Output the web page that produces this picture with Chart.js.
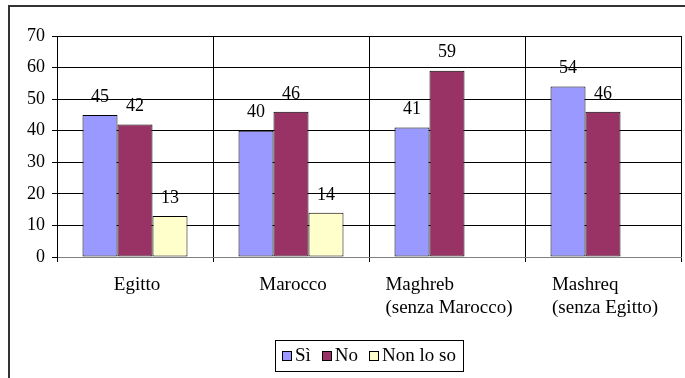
<!DOCTYPE html>
<html>
<head>
<meta charset="utf-8">
<script src="https://cdn.jsdelivr.net/npm/chart.js@4/dist/chart.umd.min.js"></script>
<style>
  html, body { margin: 0; padding: 0; background: #fff; }
  #wrap { width: 685px; height: 378px; }
</style>
</head>
<body>
<div id="wrap"><canvas id="c" width="685" height="378"></canvas></div>
<script>
// Survey answers by region (percent)
const categories = [['Egitto'], ['Marocco'], ['Maghreb', '(senza Marocco)'], ['Mashreq', '(senza Egitto)']];
const seriesNames = ['Sì', 'No', 'Non lo so'];
const si = [45, 40, 41, 54];
const no = [42, 46, 59, 46];
const nonLoSo = [13, 14, null, null];
const yTicks = [0, 10, 20, 30, 40, 50, 60, 70];

const seriesColors = ['#9999FF', '#993366', '#FFFFCC'];
const FONT = "'Liberation Serif', 'DejaVu Serif', serif";

const decor = {
  id: 'decor',
  beforeDraw(chart) {
    const ctx = chart.ctx;
    ctx.save();
    ctx.fillStyle = '#fff';
    ctx.fillRect(0, 0, chart.width, chart.height);
    ctx.restore();
  },
  afterDatasetsDraw(chart) {
    // value labels above each bar
    const ctx = chart.ctx;
    ctx.save();
    ctx.font = '18px ' + FONT;
    ctx.fillStyle = '#000';
    ctx.textAlign = 'center';
    ctx.textBaseline = 'middle';
    chart.data.datasets.forEach((ds, di) => {
      const meta = chart.getDatasetMeta(di);
      meta.data.forEach((bar, i) => {
        const v = ds.data[i];
        if (v === null || v === undefined) return;
        ctx.fillText(String(v), bar.x, bar.y - 18);
      });
    });
    ctx.restore();
  },
  afterDraw(chart) {
    const ctx = chart.ctx;
    const xs = chart.scales.x;
    const area = chart.chartArea;
    ctx.save();
    // category labels: block centred under the group, lines left-aligned
    ctx.font = '19px ' + FONT;
    ctx.fillStyle = '#000';
    ctx.textAlign = 'left';
    ctx.textBaseline = 'middle';
    chart.data.labels.forEach((lines, i) => {
      const cx = xs.getPixelForValue(i);
      const w = Math.max(...lines.map(l => ctx.measureText(l).width));
      lines.forEach((l, j) => {
        ctx.fillText(l, cx - w / 2 + 2, area.bottom + 28 + j * 23);
      });
    });

    // legend
    const box = 9, gapText = 4, gapItem = 11, pad = 7;
    const widths = chart.data.datasets.map(d => ctx.measureText(d.label).width);
    const total = widths.reduce((a, w) => a + box + gapText + w, 0) + gapItem * (widths.length - 1);
    const cxl = (area.left + area.right) / 2;
    let x = cxl - total / 2;
    const cy = 356;
    ctx.strokeStyle = '#000';
    ctx.lineWidth = 1;
    ctx.strokeRect(Math.round(x - pad) + 0.5, 340.5, Math.round(total + pad * 2), 31);
    chart.data.datasets.forEach((d, i) => {
      ctx.fillStyle = d.backgroundColor;
      ctx.fillRect(Math.round(x) + 0.5, cy - 4.5, box, box);
      ctx.strokeStyle = '#000';
      ctx.strokeRect(Math.round(x) + 0.5, cy - 4.5, box, box);
      ctx.fillStyle = '#000';
      ctx.fillText(d.label, x + box + gapText, cy);
      x += box + gapText + widths[i] + gapItem;
    });

    // outer frame
    ctx.strokeStyle = '#333';
    ctx.lineWidth = 2;
    ctx.strokeRect(9, 6, chart.width + 20, chart.height + 20);
    ctx.restore();
  }
};

new Chart(document.getElementById('c'), {
  type: 'bar',
  data: {
    labels: categories,
    datasets: [
      { label: seriesNames[0], data: si, backgroundColor: seriesColors[0] },
      { label: seriesNames[1], data: no, backgroundColor: seriesColors[1] },
      { label: seriesNames[2], data: nonLoSo, backgroundColor: seriesColors[2] }
    ].map(d => Object.assign(d, {
      borderColor: '#000', borderWidth: 1, borderSkipped: false,
      barPercentage: 1, categoryPercentage: 0.673
    }))
  },
  options: {
    responsive: false,
    devicePixelRatio: 1,
    animation: false,
    layout: { padding: { left: 0, right: 4, top: 36, bottom: 0 } },
    plugins: { legend: { display: false }, tooltip: { enabled: false } },
    scales: {
      x: {
        grid: { color: '#000', lineWidth: 1, offset: true, drawTicks: true, tickLength: 5 },
        border: { color: '#808080', width: 1 },
        ticks: { callback: () => '', font: { size: 1 } },
        afterFit(scale) { scale.height = 121; }
      },
      y: {
        min: 0,
        max: 70,
        afterBuildTicks(scale) { scale.ticks = yTicks.map(v => ({ value: v })); },
        grid: { color: '#000', lineWidth: 1, tickLength: 5 },
        border: { color: '#000', width: 1 },
        ticks: { color: '#000', padding: 7, font: { family: FONT, size: 18 } },
        afterFit(scale) { scale.width = 57; }
      }
    }
  },
  plugins: [decor]
});
</script>
</body>
</html>
